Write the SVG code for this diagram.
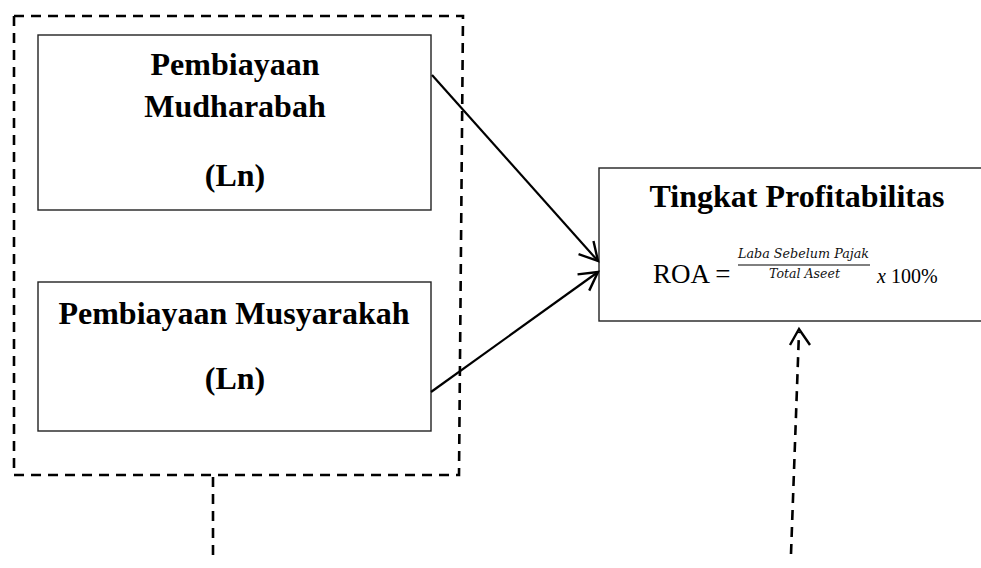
<svg xmlns="http://www.w3.org/2000/svg" width="981" height="568" viewBox="0 0 981 568">
<style>
.box{fill:#fff;stroke:#222;stroke-width:1.4}
.t{font-family:"Liberation Serif","Times New Roman",serif;font-weight:bold;font-size:32px;text-anchor:middle;fill:#000}
.dash{fill:none;stroke:#000;stroke-width:2.6;stroke-dasharray:10 7}
.arr{fill:none;stroke:#000;stroke-width:2.2}
.f{font-family:"DejaVu Serif","Liberation Serif",serif;font-style:italic;font-size:12px;fill:#111}
</style>
<defs>
<marker id="open" markerUnits="userSpaceOnUse" markerWidth="30" markerHeight="30" viewBox="-22 -15 30 30" refX="0" refY="0" orient="auto">
<path d="M-18,-10 L0,0 L-18,10" fill="none" stroke="#000" stroke-width="2.4"/>
</marker>
</defs>
<g id="group-outline">
<path class="dash" d="M14,16 L463,16 L459,475 L14,475 Z"/>
</g>
<g id="node-mudharabah">
<rect class="box" x="38" y="35" width="393" height="175"/>
<text class="t" x="235" y="75">Pembiayaan</text>
<text class="t" x="235" y="117">Mudharabah</text>
<text class="t" x="235" y="186">(Ln)</text>
</g>
<g id="node-musyarakah">
<rect class="box" x="38" y="282" width="393" height="149"/>
<text class="t" x="234" y="324">Pembiayaan Musyarakah</text>
<text class="t" x="235" y="389">(Ln)</text>
</g>
<g id="node-profitabilitas">
<rect class="box" x="599" y="168" width="390" height="153"/>
<text class="t" x="797" y="207">Tingkat Profitabilitas</text>
<text x="653" y="283" font-family="Liberation Serif,serif" font-size="27" fill="#000">ROA =</text>
<text class="f" x="738" y="258" textLength="131" lengthAdjust="spacingAndGlyphs">Laba Sebelum Pajak</text>
<line x1="738" y1="265" x2="870" y2="265" stroke="#000" stroke-width="1"/>
<text class="f" x="769" y="278" textLength="71" lengthAdjust="spacingAndGlyphs">Total Aseet</text>
<text x="877" y="283" font-family="Liberation Serif,serif" font-size="20" fill="#000"><tspan font-style="italic">x</tspan> 100%</text>
</g>
<g id="connectors">
<line class="arr" x1="432" y1="75" x2="598" y2="261" marker-end="url(#open)"/>
<line class="arr" x1="431" y1="392" x2="598" y2="272" marker-end="url(#open)"/>
<line class="dash" x1="213" y1="477" x2="213" y2="556" stroke-dasharray="11 8"/>
<line class="dash" x1="791" y1="554" x2="799" y2="332" stroke-dasharray="11 8"/>
<path d="M790,345 L799,329 L810,345" fill="none" stroke="#000" stroke-width="2.4"/>
</g>
</svg>
